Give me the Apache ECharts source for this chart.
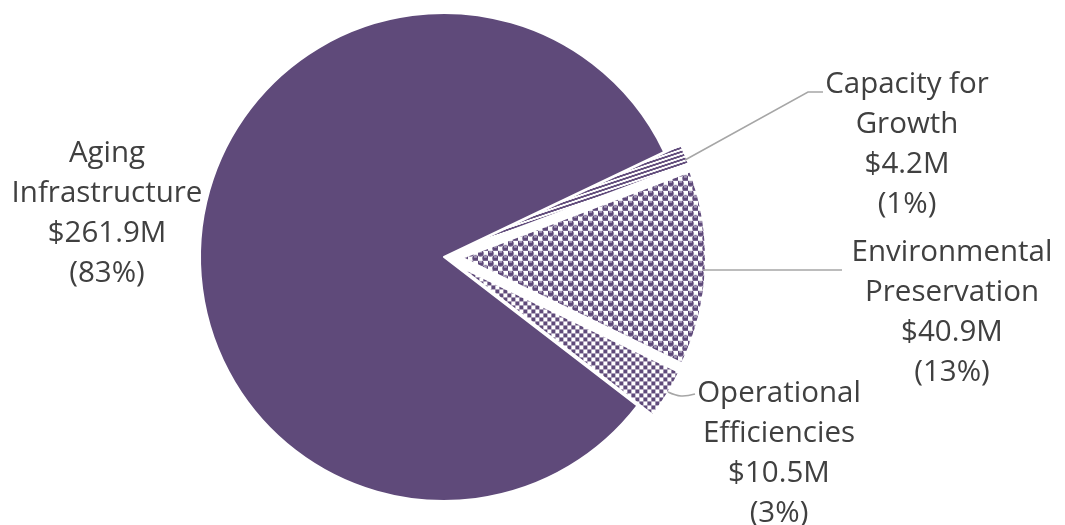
<!DOCTYPE html>
<html>
<head>
<meta charset="utf-8">
<script src="https://cdn.jsdelivr.net/npm/echarts@6/dist/echarts.min.js"></script>
<style>
html,body{margin:0;padding:0;background:#fff;}
#chart{width:1065px;height:525px;}
</style>
</head>
<body>
<div id="chart"></div>
<script>
// ---- data ----
const categories = ['Capacity for\nGrowth', 'Environmental\nPreservation', 'Operational\nEfficiencies', 'Aging\nInfrastructure'];
const values = [4.2, 40.9, 10.5, 261.9];
const exploded = [true, true, true, false];

// ---- styling / layout (not data) ----
const PURPLE = '#5f4a7a';
const TEXT_COLOR = '#404040';
const LINE_COLOR = '#a6a6a6';
const labelPos = [
  {x: 907, y: 145, line: [[685, 160], [808, 92], [823, 92]], smooth: 0},
  {x: 952, y: 313, line: [[703, 270], [772, 270], [842, 270]], smooth: 0},
  {x: 779, y: 454, line: [[668, 392], [681, 396], [695, 394]], smooth: 0.4},
  {x: 107, y: 214, line: null}
];

// percentages (largest remainder, integers)
function percents(vals) {
  const total = vals.reduce((a, b) => a + b, 0);
  const raw = vals.map(v => v / total * 100);
  const fl = raw.map(Math.floor);
  let left = 100 - fl.reduce((a, b) => a + b, 0);
  const order = raw.map((r, i) => [r - fl[i], i]).sort((a, b) => b[0] - a[0]);
  for (let k = 0; k < left; k++) fl[order[k][1]]++;
  return fl;
}
const pct = percents(values);

function makeTile(w, h, draw) {
  const c = document.createElement('canvas');
  c.width = w; c.height = h;
  const ctx = c.getContext('2d');
  ctx.fillStyle = '#ffffff';
  ctx.fillRect(0, 0, w, h);
  ctx.fillStyle = PURPLE;
  draw(ctx);
  return c;
}
// shallow diagonal stripes (Capacity for Growth)
const stripeTile = makeTile(12, 4, ctx => {
  for (let x = 0; x < 12; x++) {
    const y0 = Math.floor((11 - x) / 3);
    ctx.fillRect(x, y0, 1, 1);
    ctx.fillRect(x, (y0 + 1) % 4, 1, 1);
  }
});
// sphere pattern (Environmental Preservation)
const sphereTile = makeTile(10, 10, ctx => {
  function sph(cx, cy) {
    ctx.fillStyle = PURPLE;
    ctx.beginPath(); ctx.arc(cx, cy, 3.2, 0, Math.PI * 2); ctx.fill();
    ctx.fillStyle = '#e6e0ee';
    ctx.fillRect(cx - 1.5, cy - 2, 3, 1);
  }
  sph(2.5, 2.5); sph(7.5, 7.5);
});
// checkerboard (Operational Efficiencies)
const checkTile = makeTile(8, 8, ctx => {
  ctx.fillRect(0, 0, 4, 4);
  ctx.fillRect(4, 4, 4, 4);
});
const fills = [
  {image: stripeTile, repeat: 'repeat'},
  {image: sphereTile, repeat: 'repeat'},
  {image: checkTile, repeat: 'repeat'},
  PURPLE
];

const chart = echarts.init(document.getElementById('chart'), null, {renderer: 'canvas'});
const seriesData = categories.map((name, i) => ({
  name: name,
  value: values[i],
  selected: exploded[i],
  itemStyle: {color: fills[i]}
}));

const graphics = [];
categories.forEach((name, i) => {
  const lp = labelPos[i];
  graphics.push({
    type: 'text',
    z: 10,
    style: {
      text: name + '\n$' + values[i].toFixed(1) + 'M\n(' + pct[i] + '%)',
      x: lp.x, y: lp.y,
      align: 'center', verticalAlign: 'middle',
      fontFamily: 'Open Sans', fontSize: 29.5, lineHeight: 40,
      fill: TEXT_COLOR
    }
  });
  if (lp.line) {
    graphics.push({
      type: 'polyline',
      z: 10,
      shape: {points: lp.line, smooth: lp.smooth},
      style: {stroke: LINE_COLOR, lineWidth: 1.5, fill: null}
    });
  }
});

chart.setOption({
  animation: false,
  graphic: graphics,
  series: [{
    type: 'pie',
    center: [444, 257],
    radius: 244,
    startAngle: 25.5,
    clockwise: true,
    selectedMode: 'multiple',
    selectedOffset: 18,
    itemStyle: {borderColor: '#ffffff', borderWidth: 2},
    select: {itemStyle: {borderColor: '#ffffff', borderWidth: 2}},
    emphasis: {disabled: true},
    label: {show: false},
    labelLine: {show: false},
    data: seriesData
  }]
});
</script>
</body>
</html>
